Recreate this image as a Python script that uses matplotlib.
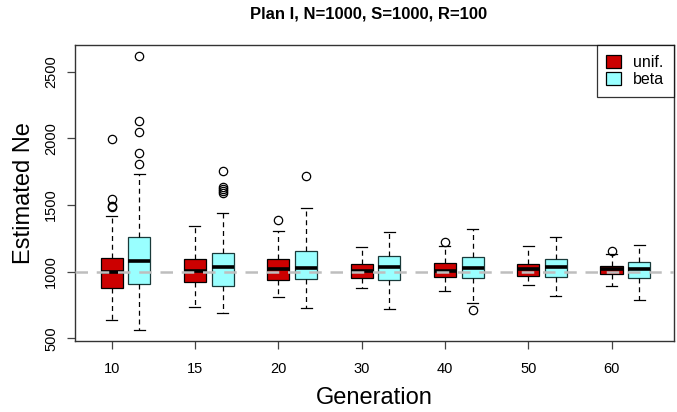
import matplotlib
matplotlib.use('Agg')
import matplotlib.pyplot as plt
from matplotlib.patches import Patch

plt.rcParams['font.family'] = ['Liberation Sans', 'DejaVu Sans']

generations = ['10', '15', '20', '30', '40', '50', '60']

# box stats: whisker low, q1, median, q3, whisker high
unif_whislo = [640, 735, 810, 875, 858, 900, 893]
unif_q1 = [875, 920, 935, 950, 958, 968, 980]
unif_med = [995, 1003, 1020, 1003, 1008, 1023, 1018]
unif_q3 = [1105, 1098, 1095, 1058, 1063, 1060, 1045]
unif_whishi = [1415, 1343, 1305, 1188, 1195, 1193, 1130]
unif_fliers = [[1993, 1548, 1495, 1485], [], [1388], [], [1222], [], [1155]]

beta_whislo = [560, 690, 730, 720, 768, 815, 788]
beta_q1 = [905, 890, 943, 940, 955, 963, 955]
beta_med = [1080, 1035, 1028, 1033, 1025, 1038, 1018]
beta_q3 = [1258, 1143, 1158, 1115, 1108, 1095, 1070]
beta_whishi = [1735, 1438, 1478, 1300, 1323, 1258, 1203]
beta_fliers = [[2618, 2128, 2045, 1893, 1810], [1753, 1635, 1620, 1605, 1592],
               [1720], [], [713], [], []]

ref_ne = 1000

unif_col = '#CC0000'
beta_col = '#99FFFF'


def make_stats(lo, q1, med, q3, hi, fl):
    stats = []
    for i in range(len(lo)):
        stats.append({'whislo': lo[i], 'q1': q1[i], 'med': med[i],
                      'q3': q3[i], 'whishi': hi[i], 'fliers': fl[i]})
    return stats


fig = plt.figure(figsize=(6.77, 4.12), dpi=100)
ax = fig.add_axes([0.1108, 0.1723, 0.8848, 0.7185])

pos = list(range(1, len(generations) + 1))
style = dict(widths=0.265, patch_artist=True, showcaps=True,
             whiskerprops=dict(linestyle=(0, (4, 3)), linewidth=0.9, color='black'),
             capprops=dict(linewidth=0.9, color='black'),
             medianprops=dict(linewidth=2.6, color='black', solid_capstyle='butt'),
             flierprops=dict(marker='o', markersize=6, markerfacecolor='none',
                             markeredgecolor='black', markeredgewidth=0.9))

b1 = ax.bxp(make_stats(unif_whislo, unif_q1, unif_med, unif_q3, unif_whishi, unif_fliers),
            positions=pos, **style)
b2 = ax.bxp(make_stats(beta_whislo, beta_q1, beta_med, beta_q3, beta_whishi, beta_fliers),
            positions=[p + 0.333 for p in pos], **style)
for b in b1['boxes']:
    b.set_facecolor(unif_col)
    b.set_edgecolor('black')
    b.set_linewidth(0.9)
for b in b2['boxes']:
    b.set_facecolor(beta_col)
    b.set_edgecolor('#1a3a3a')
    b.set_linewidth(0.9)
for c in b1['caps'] + b2['caps']:
    x = c.get_xdata()
    m = (x[0] + x[1]) / 2
    c.set_xdata([m - 0.066, m + 0.066])

ax.axhline(ref_ne, color='#BEBEBE', linestyle=(0, (5, 3.5)), linewidth=1.8, zorder=10)

ax.set_xlim(0.56, 7.75)
ax.set_ylim(480, 2700)
ax.set_xticks(pos)
ax.set_xticklabels(generations, fontsize=10.5)
ax.set_yticks([500, 1000, 1500, 2000, 2500])
ax.set_yticklabels(['500', '1000', '1500', '2000', '2500'], fontsize=10.5,
                   rotation=90, va='center')
ax.tick_params(axis='both', direction='out', length=6, width=0.9, color='#444444')
ax.tick_params(axis='x', pad=9)
ax.tick_params(axis='y', pad=6)
for s in ax.spines.values():
    s.set_linewidth(1.0)
    s.set_color('#333333')

ax.set_xlabel('Generation', fontsize=17, labelpad=8)
ax.set_ylabel('Estimated Ne', fontsize=17, labelpad=7)
fig.text(0.544, 0.966, 'Plan I, N=1000, S=1000, R=100', ha='center', va='center',
         fontsize=12, fontweight='bold')

handles = [Patch(facecolor=unif_col, edgecolor='black', linewidth=0.9),
           Patch(facecolor=beta_col, edgecolor='black', linewidth=0.9)]
leg = ax.legend(handles, ['unif.', 'beta'], loc='upper right', fontsize=11.5,
                frameon=True, fancybox=False, borderaxespad=0, handlelength=0.9,
                handleheight=0.9, handletextpad=0.8, borderpad=0.6, labelspacing=0.15)
leg.get_frame().set_edgecolor('black')
leg.get_frame().set_linewidth(0.9)

fig.savefig('out.png', dpi=100)
